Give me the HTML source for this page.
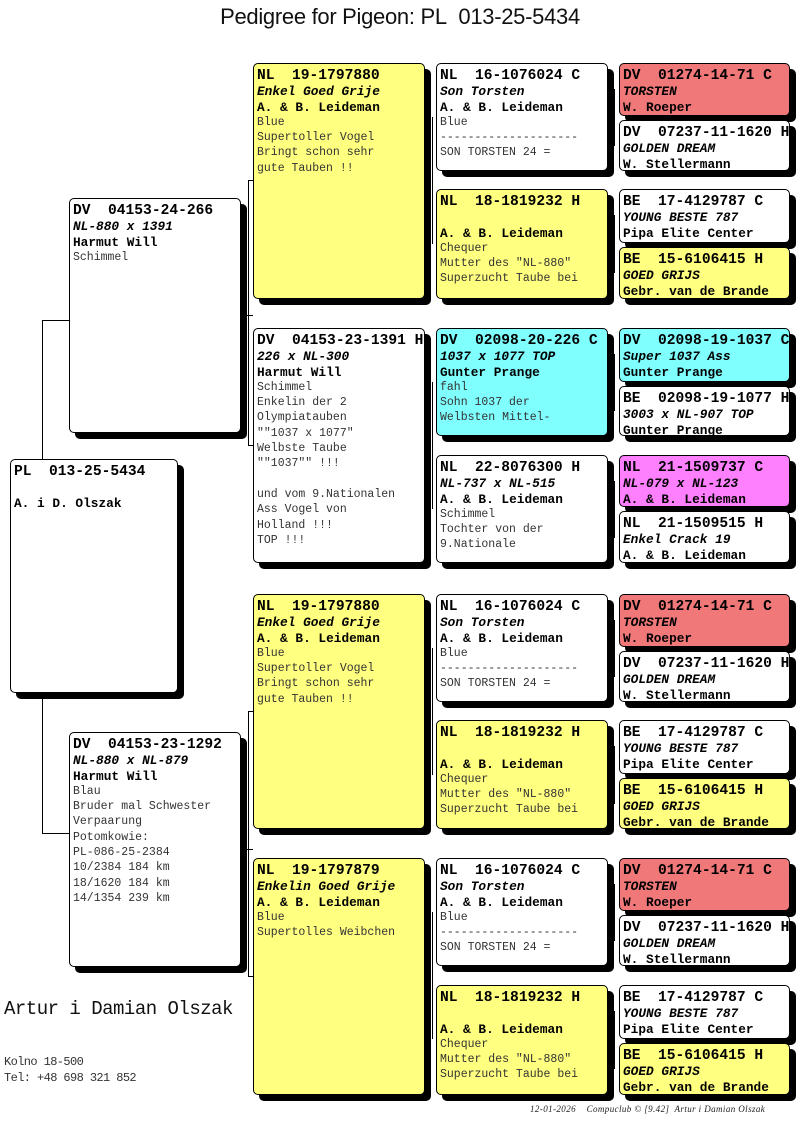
<!DOCTYPE html>
<html><head><meta charset="utf-8">
<style>
*{margin:0;padding:0;box-sizing:border-box}
body{width:800px;height:1148px;background:#fff;position:relative;overflow:hidden;font-family:"Liberation Mono",monospace}
.t{position:absolute;left:0;width:800px;top:4px;text-align:center;font:22px "Liberation Sans",sans-serif;color:#111;letter-spacing:-0.3px}
.bx{position:absolute;border:1px solid #000;border-radius:5px;box-shadow:6px 6px 0 #000;padding:5px 3px 0 3px;overflow:hidden;background:#fff;line-height:15.3px;white-space:pre;color:#000}
.y{background:#ffff80}.c{background:#80ffff}.r{background:#f07878}.m{background:#ff80ff}
.h{font-weight:bold;font-size:14.6px}
.i{font-weight:bold;font-style:italic;font-size:12.8px}
.b{font-weight:bold;font-size:12.8px}
.n{font-size:11.5px;color:#333}
.l{position:absolute;background:#000}
.v{width:1px}.hz{height:1px}
</style></head><body>
<div class="t">Pedigree for Pigeon: PL&nbsp; 013-25-5434</div>

<div class="l v" style="left:42px;top:320px;height:514px"></div>
<div class="l hz" style="left:42px;top:320px;width:27px"></div>
<div class="l hz" style="left:42px;top:833px;width:27px"></div>

<div class="l v" style="left:248px;top:180px;height:266px"></div>
<div class="l hz" style="left:246px;top:315px;width:7px"></div>
<div class="l hz" style="left:248px;top:180px;width:5px"></div>
<div class="l hz" style="left:248px;top:445px;width:5px"></div>
<div class="l v" style="left:248px;top:711px;height:266px"></div>
<div class="l hz" style="left:246px;top:849px;width:7px"></div>
<div class="l hz" style="left:248px;top:711px;width:5px"></div>
<div class="l hz" style="left:248px;top:976px;width:5px"></div>

<div class="l v" style="left:432px;top:117px;height:127px"></div>
<div class="l v" style="left:432px;top:382px;height:127px"></div>
<div class="l v" style="left:432px;top:648px;height:127px"></div>
<div class="l v" style="left:432px;top:912px;height:127px"></div>

<div class="l v" style="left:614px;top:89px;height:57px"></div>
<div class="l v" style="left:614px;top:215px;height:58px"></div>
<div class="l v" style="left:614px;top:354px;height:57px"></div>
<div class="l v" style="left:614px;top:481px;height:57px"></div>
<div class="l v" style="left:614px;top:620px;height:57px"></div>
<div class="l v" style="left:614px;top:746px;height:58px"></div>
<div class="l v" style="left:614px;top:884px;height:57px"></div>
<div class="l v" style="left:614px;top:1011px;height:58px"></div>

<div class="bx" style="left:10px;top:459px;width:168px;height:234px"><div class="h">PL  013-25-5434</div><div class="n"> </div><div class="b">A. i D. Olszak</div></div>

<div class="bx" style="left:69px;top:198px;width:172px;height:235px"><div class="h">DV  04153-24-266</div><div class="i">NL-880 x 1391</div><div class="b">Harmut Will</div><div class="n">Schimmel</div></div>
<div class="bx" style="left:69px;top:732px;width:172px;height:235px"><div class="h">DV  04153-23-1292</div><div class="i">NL-880 x NL-879</div><div class="b">Harmut Will</div><div class="n">Blau
Bruder mal Schwester
Verpaarung
Potomkowie:
PL-086-25-2384
10/2384 184 km
18/1620 184 km
14/1354 239 km</div></div>

<div class="bx y" style="left:253px;top:63px;width:172px;height:236px"><div class="h">NL  19-1797880</div><div class="i">Enkel Goed Grije</div><div class="b">A. &amp; B. Leideman</div><div class="n">Blue
Supertoller Vogel
Bringt schon sehr
gute Tauben !!</div></div>
<div class="bx" style="left:253px;top:328px;width:172px;height:235px"><div class="h">DV  04153-23-1391 H</div><div class="i">226 x NL-300</div><div class="b">Harmut Will</div><div class="n">Schimmel
Enkelin der 2
Olympiatauben
""1037 x 1077"
Welbste Taube
""1037"" !!!

und vom 9.Nationalen
Ass Vogel von
Holland !!!
TOP !!!</div></div>
<div class="bx y" style="left:253px;top:594px;width:172px;height:235px"><div class="h">NL  19-1797880</div><div class="i">Enkel Goed Grije</div><div class="b">A. &amp; B. Leideman</div><div class="n">Blue
Supertoller Vogel
Bringt schon sehr
gute Tauben !!</div></div>
<div class="bx y" style="left:253px;top:858px;width:172px;height:237px"><div class="h">NL  19-1797879</div><div class="i">Enkelin Goed Grije</div><div class="b">A. &amp; B. Leideman</div><div class="n">Blue
Supertolles Weibchen</div></div>

<div class="bx" style="left:436px;top:63px;width:172px;height:108px"><div class="h">NL  16-1076024 C</div><div class="i">Son Torsten</div><div class="b">A. &amp; B. Leideman</div><div class="n">Blue
--------------------
SON TORSTEN 24 =</div></div>
<div class="bx y" style="left:436px;top:189px;width:172px;height:110px"><div class="h">NL  18-1819232 H</div><div class="n"> </div><div class="b">A. &amp; B. Leideman</div><div class="n">Chequer
Mutter des "NL-880"
Superzucht Taube bei</div></div>
<div class="bx c" style="left:436px;top:328px;width:172px;height:108px"><div class="h">DV  02098-20-226 C</div><div class="i">1037 x 1077 TOP</div><div class="b">Gunter Prange</div><div class="n">fahl
Sohn 1037 der
Welbsten Mittel-</div></div>
<div class="bx" style="left:436px;top:455px;width:172px;height:108px"><div class="h">NL  22-8076300 H</div><div class="i">NL-737 x NL-515</div><div class="b">A. &amp; B. Leideman</div><div class="n">Schimmel
Tochter von der
9.Nationale</div></div>
<div class="bx" style="left:436px;top:594px;width:172px;height:108px"><div class="h">NL  16-1076024 C</div><div class="i">Son Torsten</div><div class="b">A. &amp; B. Leideman</div><div class="n">Blue
--------------------
SON TORSTEN 24 =</div></div>
<div class="bx y" style="left:436px;top:720px;width:172px;height:109px"><div class="h">NL  18-1819232 H</div><div class="n"> </div><div class="b">A. &amp; B. Leideman</div><div class="n">Chequer
Mutter des "NL-880"
Superzucht Taube bei</div></div>
<div class="bx" style="left:436px;top:858px;width:172px;height:108px"><div class="h">NL  16-1076024 C</div><div class="i">Son Torsten</div><div class="b">A. &amp; B. Leideman</div><div class="n">Blue
--------------------
SON TORSTEN 24 =</div></div>
<div class="bx y" style="left:436px;top:985px;width:172px;height:110px"><div class="h">NL  18-1819232 H</div><div class="n"> </div><div class="b">A. &amp; B. Leideman</div><div class="n">Chequer
Mutter des "NL-880"
Superzucht Taube bei</div></div>

<div class="bx r" style="left:619px;top:63px;width:171px;height:53px"><div class="h">DV  01274-14-71 C</div><div class="i">TORSTEN</div><div class="b">W. Roeper</div></div>
<div class="bx" style="left:619px;top:120px;width:171px;height:51px"><div class="h">DV  07237-11-1620 H</div><div class="i">GOLDEN DREAM</div><div class="b">W. Stellermann</div></div>
<div class="bx" style="left:619px;top:189px;width:171px;height:54px"><div class="h">BE  17-4129787 C</div><div class="i">YOUNG BESTE 787</div><div class="b">Pipa Elite Center</div></div>
<div class="bx y" style="left:619px;top:247px;width:171px;height:52px"><div class="h">BE  15-6106415 H</div><div class="i">GOED GRIJS</div><div class="b">Gebr. van de Brande</div></div>
<div class="bx c" style="left:619px;top:328px;width:171px;height:54px"><div class="h">DV  02098-19-1037 C</div><div class="i">Super 1037 Ass</div><div class="b">Gunter Prange</div></div>
<div class="bx" style="left:619px;top:386px;width:171px;height:50px"><div class="h">BE  02098-19-1077 H</div><div class="i">3003 x NL-907 TOP</div><div class="b">Gunter Prange</div></div>
<div class="bx m" style="left:619px;top:455px;width:171px;height:52px"><div class="h">NL  21-1509737 C</div><div class="i">NL-079 x NL-123</div><div class="b">A. &amp; B. Leideman</div></div>
<div class="bx" style="left:619px;top:511px;width:171px;height:52px"><div class="h">NL  21-1509515 H</div><div class="i">Enkel Crack 19</div><div class="b">A. &amp; B. Leideman</div></div>
<div class="bx r" style="left:619px;top:594px;width:171px;height:53px"><div class="h">DV  01274-14-71 C</div><div class="i">TORSTEN</div><div class="b">W. Roeper</div></div>
<div class="bx" style="left:619px;top:651px;width:171px;height:51px"><div class="h">DV  07237-11-1620 H</div><div class="i">GOLDEN DREAM</div><div class="b">W. Stellermann</div></div>
<div class="bx" style="left:619px;top:720px;width:171px;height:54px"><div class="h">BE  17-4129787 C</div><div class="i">YOUNG BESTE 787</div><div class="b">Pipa Elite Center</div></div>
<div class="bx y" style="left:619px;top:778px;width:171px;height:51px"><div class="h">BE  15-6106415 H</div><div class="i">GOED GRIJS</div><div class="b">Gebr. van de Brande</div></div>
<div class="bx r" style="left:619px;top:858px;width:171px;height:53px"><div class="h">DV  01274-14-71 C</div><div class="i">TORSTEN</div><div class="b">W. Roeper</div></div>
<div class="bx" style="left:619px;top:915px;width:171px;height:51px"><div class="h">DV  07237-11-1620 H</div><div class="i">GOLDEN DREAM</div><div class="b">W. Stellermann</div></div>
<div class="bx" style="left:619px;top:985px;width:171px;height:54px"><div class="h">BE  17-4129787 C</div><div class="i">YOUNG BESTE 787</div><div class="b">Pipa Elite Center</div></div>
<div class="bx y" style="left:619px;top:1043px;width:171px;height:52px"><div class="h">BE  15-6106415 H</div><div class="i">GOED GRIJS</div><div class="b">Gebr. van de Brande</div></div>

<div style="position:absolute;left:4px;top:998px;font-size:19px;font-family:'Liberation Mono',monospace;color:#111;letter-spacing:-0.5px">Artur i Damian Olszak</div>
<div style="position:absolute;left:4px;top:1054px;font-size:12px;line-height:16px;color:#333;white-space:pre;letter-spacing:-0.6px">Kolno 18-500
Tel: +48 698 321 852</div>
<div style="position:absolute;left:530px;top:1104px;font-size:9px;font-style:italic;font-family:'Liberation Serif',serif;color:#222;white-space:pre;letter-spacing:0.4px">12-01-2026    Compuclub © [9.42]  Artur i Damian Olszak</div>
</body></html>
